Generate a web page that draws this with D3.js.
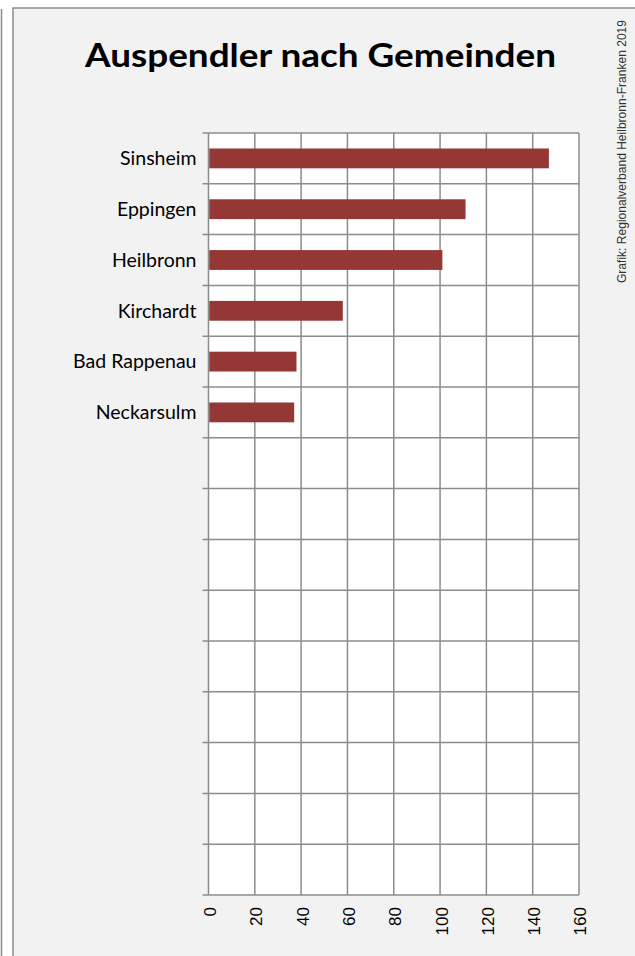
<!DOCTYPE html>
<html>
<head>
<meta charset="utf-8">
<script src="https://cdn.jsdelivr.net/npm/d3@7"></script>
<style>
    body { margin: 0; background: #fff; }
    svg { display: block; }
</style>
</head>
<body>
<div id="chart"></div>
<script>
// Chart data
const categories = ['Sinsheim', 'Eppingen', 'Heilbronn', 'Kirchardt', 'Bad Rappenau', 'Neckarsulm',
    '', '', '', '', '', '', '', '', ''];
const values = [147, 111, 101, 58, 38, 37];
const xTicks = [0, 20, 40, 60, 80, 100, 120, 140, 160];
const titleText = 'Auspendler nach Gemeinden';
const sourceText = 'Grafik: Regionalverband Heilbronn-Franken 2019';

const width = 635, height = 956;
const margin = { top: 133, left: 208.5, right: 56, bottom: 61 };
const chartWidth = width - margin.left - margin.right;
const chartHeight = height - margin.top - margin.bottom;

const gridColor = '#8c8c8c';

const svg = d3.select('#chart')
    .append('svg')
    .attr('width', width)
    .attr('height', height);

// Outer decoration: thin line on the left, then the grey panel
svg.append('line')
    .attr('x1', 1.5).attr('x2', 1.5)
    .attr('y1', 9).attr('y2', height)
    .attr('stroke', gridColor)
    .attr('stroke-width', 1.5);

svg.append('rect')
    .attr('x', 13).attr('y', 8)
    .attr('width', width + 10).attr('height', height + 10)
    .attr('fill', '#f2f2f2')
    .attr('stroke', gridColor)
    .attr('stroke-width', 1.5);

// Title
svg.append('text')
    .attr('x', 320.5)
    .attr('y', 67)
    .attr('text-anchor', 'middle')
    .style('font-family', 'Lato, "Open Sans", sans-serif')
    .style('font-weight', 'bold')
    .style('font-size', '33px')
    .attr('textLength', 471)
    .attr('lengthAdjust', 'spacingAndGlyphs')
    .attr('fill', '#000')
    .text(titleText);

// Source note, vertical on the right
svg.append('text')
    .attr('transform', 'translate(626,20) rotate(-90)')
    .attr('text-anchor', 'end')
    .style('font-family', '"Liberation Sans", Arial, sans-serif')
    .style('font-size', '12.5px')
    .attr('textLength', 263)
    .attr('lengthAdjust', 'spacingAndGlyphs')
    .attr('fill', '#333')
    .text(sourceText);

const g = svg.append('g')
    .attr('transform', `translate(${margin.left},${margin.top})`);

// Scales
const xScale = d3.scaleLinear()
    .domain([0, 160])
    .range([0, chartWidth]);

const yScale = d3.scaleBand()
    .domain(d3.range(categories.length))
    .range([0, chartHeight])
    .paddingInner(0.61)
    .paddingOuter(0.305);

const bandStep = yScale.step();

// Plot background
g.append('rect')
    .attr('width', chartWidth)
    .attr('height', chartHeight)
    .attr('fill', '#fff');

// Vertical grid lines
g.selectAll('.vgrid')
    .data(xTicks)
    .join('line')
    .attr('class', 'vgrid')
    .attr('x1', d => xScale(d)).attr('x2', d => xScale(d))
    .attr('y1', 0).attr('y2', chartHeight)
    .attr('stroke', gridColor)
    .attr('stroke-width', 1.5);

// Horizontal grid lines at band boundaries (with outside ticks)
const boundaries = d3.range(categories.length + 1).map(i => i * bandStep);
g.selectAll('.hgrid')
    .data(boundaries)
    .join('line')
    .attr('class', 'hgrid')
    .attr('x1', -6).attr('x2', chartWidth)
    .attr('y1', d => d).attr('y2', d => d)
    .attr('stroke', gridColor)
    .attr('stroke-width', 1.5);

// Bars
g.selectAll('.bar')
    .data(values)
    .join('rect')
    .attr('class', 'bar')
    .attr('x', xScale(0) + 0.75)
    .attr('y', (d, i) => yScale(i))
    .attr('width', d => xScale(d) - xScale(0) - 0.75)
    .attr('height', yScale.bandwidth())
    .attr('fill', '#953735');

// Category labels
g.selectAll('.cat-label')
    .data(categories)
    .join('text')
    .attr('class', 'cat-label')
    .attr('x', -12)
    .attr('y', (d, i) => yScale(i) + yScale.bandwidth() / 2)
    .attr('dy', '0.35em')
    .attr('text-anchor', 'end')
    .style('font-family', 'Lato, "Open Sans", sans-serif')
    .style('font-size', '19.5px')
    .attr('fill', '#000')
    .text(d => d);

// X axis tick labels (rotated)
g.selectAll('.x-label')
    .data(xTicks)
    .join('text')
    .attr('class', 'x-label')
    .attr('transform', d => `translate(${xScale(d) + 1.5},${chartHeight + 12}) rotate(-90)`)
    .attr('dy', '0.35em')
    .attr('text-anchor', 'end')
    .style('font-family', '"Liberation Sans", Arial, sans-serif')
    .style('font-size', '17px')
    .attr('fill', '#000')
    .text(d => d);
</script>
</body>
</html>
